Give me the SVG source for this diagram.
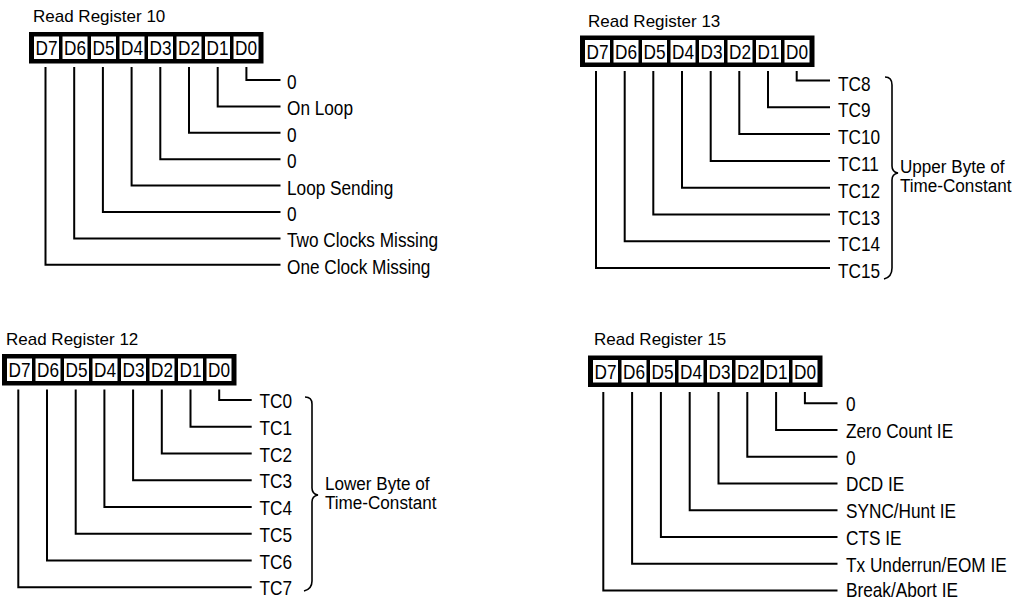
<svg xmlns="http://www.w3.org/2000/svg" width="1024" height="600" viewBox="0 0 1024 600">
<style>
text{font-family:"Liberation Sans",Arial,Helvetica,sans-serif;fill:#000}
.ttl{font-size:17px}
.lbl{font-size:21px}
.grp{font-size:19px}
.bit{font-size:21px;text-anchor:middle}
.frame{fill:#000}
.cell{fill:#fff}
.wire{fill:none;stroke:#000;stroke-width:2}
.brace{fill:none;stroke:#000;stroke-width:1.6}
</style>
<rect width="1024" height="600" fill="#fff"/>

<!-- Read Register 10 -->
<g id="rr10">
<text class="ttl" x="33" y="22">Read Register 10</text>
<rect class="frame" x="29" y="32" width="234.5" height="31.5"/>
<rect class="cell" x="34" y="36.5" width="25" height="22.5"/>
<rect class="cell" x="62.5" y="36.5" width="25" height="22.5"/>
<rect class="cell" x="91" y="36.5" width="25" height="22.5"/>
<rect class="cell" x="119.5" y="36.5" width="25" height="22.5"/>
<rect class="cell" x="148" y="36.5" width="25" height="22.5"/>
<rect class="cell" x="176.5" y="36.5" width="25" height="22.5"/>
<rect class="cell" x="205" y="36.5" width="25" height="22.5"/>
<rect class="cell" x="233.5" y="36.5" width="25" height="22.5"/>
<text class="bit" transform="translate(46.5,55) scale(0.82,1)">D7</text>
<text class="bit" transform="translate(75,55) scale(0.82,1)">D6</text>
<text class="bit" transform="translate(103.5,55) scale(0.82,1)">D5</text>
<text class="bit" transform="translate(132,55) scale(0.82,1)">D4</text>
<text class="bit" transform="translate(160.5,55) scale(0.82,1)">D3</text>
<text class="bit" transform="translate(189,55) scale(0.82,1)">D2</text>
<text class="bit" transform="translate(217.5,55) scale(0.82,1)">D1</text>
<text class="bit" transform="translate(246,55) scale(0.82,1)">D0</text>
<g id="rr10-labels">
<text class="lbl" transform="translate(287,89) scale(0.82,1)">0</text>
<text class="lbl" transform="translate(287,115.4) scale(0.82,1)">On Loop</text>
<text class="lbl" transform="translate(287,141.8) scale(0.82,1)">0</text>
<text class="lbl" transform="translate(287,168.2) scale(0.82,1)">0</text>
<text class="lbl" transform="translate(287,194.6) scale(0.82,1)">Loop Sending</text>
<text class="lbl" transform="translate(287,221) scale(0.82,1)">0</text>
<text class="lbl" transform="translate(287,247.4) scale(0.82,1)">Two Clocks Missing</text>
<text class="lbl" transform="translate(287,273.8) scale(0.82,1)">One Clock Missing</text>
</g>
</g>

<!-- Read Register 13 -->
<g id="rr13">
<text class="ttl" x="588" y="27">Read Register 13</text>
<rect class="frame" x="580" y="35.5" width="234.5" height="31.5"/>
<rect class="cell" x="585" y="40" width="25" height="22.5"/>
<rect class="cell" x="613.5" y="40" width="25" height="22.5"/>
<rect class="cell" x="642" y="40" width="25" height="22.5"/>
<rect class="cell" x="670.5" y="40" width="25" height="22.5"/>
<rect class="cell" x="699" y="40" width="25" height="22.5"/>
<rect class="cell" x="727.5" y="40" width="25" height="22.5"/>
<rect class="cell" x="756" y="40" width="25" height="22.5"/>
<rect class="cell" x="784.5" y="40" width="25" height="22.5"/>
<text class="bit" transform="translate(597.5,58.5) scale(0.82,1)">D7</text>
<text class="bit" transform="translate(626,58.5) scale(0.82,1)">D6</text>
<text class="bit" transform="translate(654.5,58.5) scale(0.82,1)">D5</text>
<text class="bit" transform="translate(683,58.5) scale(0.82,1)">D4</text>
<text class="bit" transform="translate(711.5,58.5) scale(0.82,1)">D3</text>
<text class="bit" transform="translate(740,58.5) scale(0.82,1)">D2</text>
<text class="bit" transform="translate(768.5,58.5) scale(0.82,1)">D1</text>
<text class="bit" transform="translate(797,58.5) scale(0.82,1)">D0</text>
<g id="rr13-labels">
<text class="lbl" transform="translate(838,90.5) scale(0.82,1)">TC8</text>
<text class="lbl" transform="translate(838,117.3) scale(0.82,1)">TC9</text>
<text class="lbl" transform="translate(838,144.1) scale(0.82,1)">TC10</text>
<text class="lbl" transform="translate(838,170.9) scale(0.82,1)">TC11</text>
<text class="lbl" transform="translate(838,197.7) scale(0.82,1)">TC12</text>
<text class="lbl" transform="translate(838,224.5) scale(0.82,1)">TC13</text>
<text class="lbl" transform="translate(838,251.3) scale(0.82,1)">TC14</text>
<text class="lbl" transform="translate(838,278.1) scale(0.82,1)">TC15</text>
<path class="brace" d="M885,77 Q892,77 892,85 L892,166 Q892,172 898,173 Q892,174 892,180 L892,268 Q892,277 884,279"/>
<text class="grp" transform="translate(900,173) scale(0.9,1)">Upper Byte of</text>
<text class="grp" transform="translate(900,192) scale(0.9,1)">Time-Constant</text>
</g>
</g>

<!-- Read Register 12 -->
<g id="rr12">
<text class="ttl" x="6" y="345">Read Register 12</text>
<rect class="frame" x="2" y="354" width="234.5" height="31.5"/>
<rect class="cell" x="7" y="358.5" width="25" height="22.5"/>
<rect class="cell" x="35.5" y="358.5" width="25" height="22.5"/>
<rect class="cell" x="64" y="358.5" width="25" height="22.5"/>
<rect class="cell" x="92.5" y="358.5" width="25" height="22.5"/>
<rect class="cell" x="121" y="358.5" width="25" height="22.5"/>
<rect class="cell" x="149.5" y="358.5" width="25" height="22.5"/>
<rect class="cell" x="178" y="358.5" width="25" height="22.5"/>
<rect class="cell" x="206.5" y="358.5" width="25" height="22.5"/>
<text class="bit" transform="translate(19.5,377) scale(0.82,1)">D7</text>
<text class="bit" transform="translate(48,377) scale(0.82,1)">D6</text>
<text class="bit" transform="translate(76.5,377) scale(0.82,1)">D5</text>
<text class="bit" transform="translate(105,377) scale(0.82,1)">D4</text>
<text class="bit" transform="translate(133.5,377) scale(0.82,1)">D3</text>
<text class="bit" transform="translate(162,377) scale(0.82,1)">D2</text>
<text class="bit" transform="translate(190.5,377) scale(0.82,1)">D1</text>
<text class="bit" transform="translate(219,377) scale(0.82,1)">D0</text>
<g id="rr12-labels">
<text class="lbl" transform="translate(259.5,408) scale(0.82,1)">TC0</text>
<text class="lbl" transform="translate(259.5,434.75) scale(0.82,1)">TC1</text>
<text class="lbl" transform="translate(259.5,461.5) scale(0.82,1)">TC2</text>
<text class="lbl" transform="translate(259.5,488.25) scale(0.82,1)">TC3</text>
<text class="lbl" transform="translate(259.5,515) scale(0.82,1)">TC4</text>
<text class="lbl" transform="translate(259.5,541.75) scale(0.82,1)">TC5</text>
<text class="lbl" transform="translate(259.5,568.5) scale(0.82,1)">TC6</text>
<text class="lbl" transform="translate(259.5,595) scale(0.82,1)">TC7</text>
<path class="brace" d="M305,397 Q312,397 312,404 L312,488 Q312,494 318,495 Q312,496 312,502 L312,581 Q312,589 304,591"/>
<text class="grp" transform="translate(325,490) scale(0.9,1)">Lower Byte of</text>
<text class="grp" transform="translate(325,509) scale(0.9,1)">Time-Constant</text>
</g>
</g>

<!-- Read Register 15 -->
<g id="rr15">
<text class="ttl" x="594" y="345">Read Register 15</text>
<rect class="frame" x="588" y="355.5" width="234.5" height="31.5"/>
<rect class="cell" x="593" y="360" width="25" height="22.5"/>
<rect class="cell" x="621.5" y="360" width="25" height="22.5"/>
<rect class="cell" x="650" y="360" width="25" height="22.5"/>
<rect class="cell" x="678.5" y="360" width="25" height="22.5"/>
<rect class="cell" x="707" y="360" width="25" height="22.5"/>
<rect class="cell" x="735.5" y="360" width="25" height="22.5"/>
<rect class="cell" x="764" y="360" width="25" height="22.5"/>
<rect class="cell" x="792.5" y="360" width="25" height="22.5"/>
<text class="bit" transform="translate(605.5,378.5) scale(0.82,1)">D7</text>
<text class="bit" transform="translate(634,378.5) scale(0.82,1)">D6</text>
<text class="bit" transform="translate(662.5,378.5) scale(0.82,1)">D5</text>
<text class="bit" transform="translate(691,378.5) scale(0.82,1)">D4</text>
<text class="bit" transform="translate(719.5,378.5) scale(0.82,1)">D3</text>
<text class="bit" transform="translate(748,378.5) scale(0.82,1)">D2</text>
<text class="bit" transform="translate(776.5,378.5) scale(0.82,1)">D1</text>
<text class="bit" transform="translate(805,378.5) scale(0.82,1)">D0</text>
<g id="rr15-labels">
<text class="lbl" transform="translate(846,411) scale(0.82,1)">0</text>
<text class="lbl" transform="translate(846,437.75) scale(0.82,1)">Zero Count IE</text>
<text class="lbl" transform="translate(846,464.5) scale(0.82,1)">0</text>
<text class="lbl" transform="translate(846,491.25) scale(0.82,1)">DCD IE</text>
<text class="lbl" transform="translate(846,518) scale(0.82,1)">SYNC/Hunt IE</text>
<text class="lbl" transform="translate(846,544.75) scale(0.82,1)">CTS IE</text>
<text class="lbl" transform="translate(846,571.5) scale(0.82,1)">Tx Underrun/EOM IE</text>
<text class="lbl" transform="translate(846,597) scale(0.82,1)">Break/Abort IE</text>
</g>
</g>

<!-- Connectors -->
<g id="connectors" class="wire">
<path d="M246.4,67 V80 H280.5"/>
<path d="M217.7,67 V106.4 H280.5"/>
<path d="M189,67 V132.8 H280.5"/>
<path d="M160.3,67 V159.2 H280.5"/>
<path d="M131.6,67 V185.6 H280.5"/>
<path d="M102.9,67 V212 H280.5"/>
<path d="M74.2,67 V238.4 H280.5"/>
<path d="M45.5,67 V264.8 H280.5"/>

<path d="M796.7,71 V80.5 H830"/>
<path d="M768,71 V107.3 H830"/>
<path d="M739.3,71 V134.1 H830"/>
<path d="M710.7,71 V160.9 H830"/>
<path d="M682,71 V187.7 H830"/>
<path d="M653.3,71 V214.5 H830"/>
<path d="M624.7,71 V241.3 H830"/>
<path d="M596,71 V268.1 H830"/>

<path d="M219.2,389.5 V400 H251.7"/>
<path d="M190.5,389.5 V426.75 H251.7"/>
<path d="M161.8,389.5 V453.5 H251.7"/>
<path d="M133.1,389.5 V480.25 H251.7"/>
<path d="M104.4,389.5 V507 H251.7"/>
<path d="M75.7,389.5 V533.75 H251.7"/>
<path d="M47,389.5 V560.5 H251.7"/>
<path d="M18.3,389.5 V587.25 H251.7"/>

<path d="M804.9,392 V403.3 H837.5"/>
<path d="M776.1,392 V430.05 H837.5"/>
<path d="M747.3,392 V456.8 H837.5"/>
<path d="M718.5,392 V483.55 H837.5"/>
<path d="M689.7,392 V510.3 H837.5"/>
<path d="M660.9,392 V537.05 H837.5"/>
<path d="M632.1,392 V563.8 H837.5"/>
<path d="M603.3,392 V590.55 H837.5"/>
</g>
</svg>
